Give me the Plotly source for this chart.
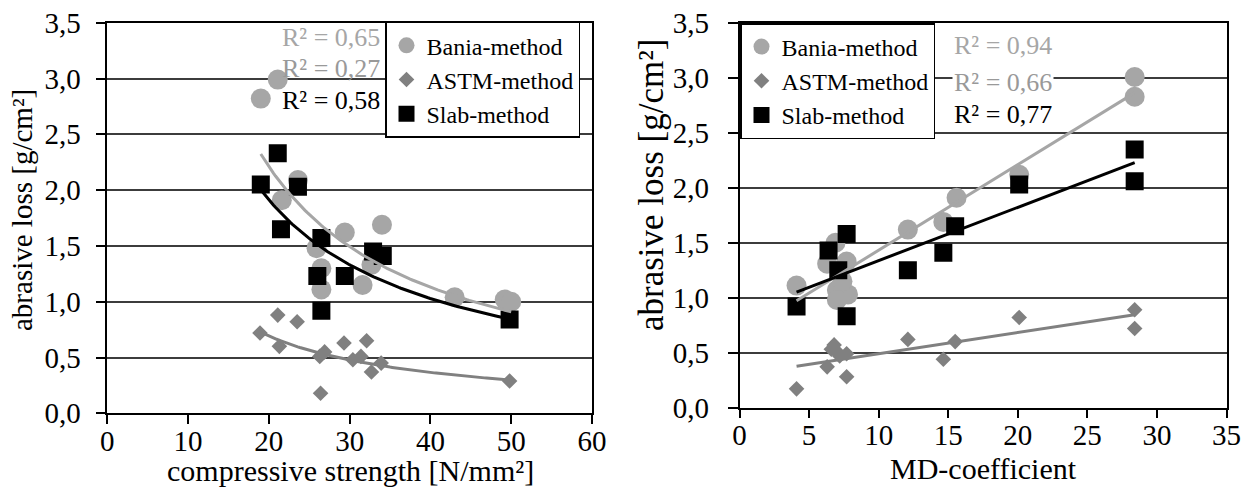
import numpy as np
import plotly.graph_objects as go

W, H = 1245, 493
FONT = "Liberation Serif"

# ---------------- data ----------------
# Left panel: compressive strength [N/mm²] vs abrasive loss [g/cm²]
left_bania_x = [19.0, 21.1, 23.6, 21.6, 29.4, 34.0, 25.9, 26.5, 26.5, 31.6, 32.7, 43.0, 49.2, 50.0]
left_bania_y = [2.82, 2.99, 2.09, 1.91, 1.62, 1.69, 1.48, 1.30, 1.11, 1.15, 1.33, 1.04, 1.02, 1.00]
left_astm_x = [18.9, 21.1, 23.5, 21.3, 26.3, 26.9, 29.3, 32.1, 30.4, 31.4, 32.7, 33.9, 26.4, 49.8]
left_astm_y = [0.72, 0.88, 0.82, 0.60, 0.51, 0.55, 0.63, 0.65, 0.48, 0.51, 0.37, 0.45, 0.18, 0.29]
left_slab_x = [19.0, 21.1, 23.6, 21.5, 26.5, 26.0, 29.4, 26.5, 32.9, 34.1, 49.8]
left_slab_y = [2.05, 2.33, 2.03, 1.65, 1.57, 1.23, 1.23, 0.92, 1.45, 1.41, 0.84]

# Right panel: MD-coefficient vs abrasive loss [g/cm²]
right_bania_x = [4.1, 6.9, 6.3, 7.7, 7.0, 7.8, 7.0, 7.4, 12.1, 14.65, 15.6, 20.1, 28.4, 28.4]
right_bania_y = [1.11, 1.50, 1.31, 1.33, 1.07, 1.03, 0.98, 1.15, 1.62, 1.69, 1.91, 2.12, 3.01, 2.83]
right_astm_x = [4.1, 6.3, 7.7, 6.8, 7.0, 7.7, 6.6, 7.2, 12.1, 14.65, 15.5, 20.1, 28.4, 28.4]
right_astm_y = [0.17, 0.37, 0.28, 0.57, 0.51, 0.49, 0.53, 0.47, 0.62, 0.44, 0.60, 0.82, 0.89, 0.72]
right_slab_x = [4.1, 6.4, 7.7, 7.1, 7.7, 12.1, 14.65, 15.5, 28.4, 28.4, 20.1]
right_slab_y = [0.92, 1.43, 1.58, 1.25, 0.83, 1.25, 1.41, 1.65, 2.35, 2.06, 2.03]

series_names = ["Bania-method", "ASTM-method", "Slab-method"]
left_r2 = ["R² = 0,65", "R² = 0,27", "R² = 0,58"]
right_r2 = ["R² = 0,94", "R² = 0,66", "R² = 0,77"]

x_title_left = "compressive strength [N/mm²]"
x_title_right = "MD-coefficient"
y_title = "abrasive loss [g/cm²]"

# ---------------- styles ----------------
C_BANIA = "#a6a6a6"
C_ASTM = "#808080"
C_SLAB = "#000000"
colors = [C_BANIA, C_ASTM, C_SLAB]
r2_colors = ["#a6a6a6", "#999999", "#000000"]
symbols = ["circle", "diamond", "square"]
sizes = [20, 12, 18]


def power_fit(x, y):
    x = np.asarray(x, float); y = np.asarray(y, float)
    b, ln_a = np.polyfit(np.log(x), np.log(y), 1)
    xs = np.linspace(x.min(), x.max(), 120)
    return xs, np.exp(ln_a) * xs ** b


def linear_fit(x, y):
    x = np.asarray(x, float); y = np.asarray(y, float)
    m, c = np.polyfit(x, y, 1)
    xs = np.array([x.min(), x.max()])
    return xs, m * xs + c


fig = go.Figure()

left_sets = [(left_bania_x, left_bania_y), (left_astm_x, left_astm_y), (left_slab_x, left_slab_y)]
right_sets = [(right_bania_x, right_bania_y), (right_astm_x, right_astm_y), (right_slab_x, right_slab_y)]

for i, (xs, ys) in enumerate(left_sets):
    fig.add_trace(go.Scatter(x=xs, y=ys, mode="markers", name=series_names[i],
                             marker=dict(symbol=symbols[i], size=sizes[i], color=colors[i], line=dict(width=0)),
                             xaxis="x", yaxis="y", legend="legend"))
for i, (xs, ys) in enumerate(left_sets):
    fx, fy = power_fit(xs, ys)
    fig.add_trace(go.Scatter(x=fx, y=fy, mode="lines", line=dict(color=colors[i], width=3),
                             showlegend=False, hoverinfo="skip", xaxis="x", yaxis="y"))

for i, (xs, ys) in enumerate(right_sets):
    fig.add_trace(go.Scatter(x=xs, y=ys, mode="markers", name=series_names[i],
                             marker=dict(symbol=symbols[i], size=sizes[i], color=colors[i], line=dict(width=0)),
                             xaxis="x2", yaxis="y2", legend="legend2"))
for i, (xs, ys) in enumerate(right_sets):
    fx, fy = linear_fit(xs, ys)
    fig.add_trace(go.Scatter(x=fx, y=fy, mode="lines", line=dict(color=colors[i], width=3),
                             showlegend=False, hoverinfo="skip", xaxis="x2", yaxis="y2"))

tickfont = dict(family=FONT, size=29, color="black")
common_x = dict(showline=True, linecolor="black", linewidth=1.5, mirror=True, ticks="outside",
                ticklen=9, tickcolor="black", tickwidth=1.5, showgrid=False, zeroline=False,
                tickfont=tickfont, ticklabelstandoff=-8, automargin=False)
common_y = dict(showline=True, linecolor="black", linewidth=1.5, mirror=True, ticks="outside",
                ticklen=10, tickcolor="black", tickwidth=1.5, showgrid=True, gridcolor="#3c3c3c",
                gridwidth=1.5, zeroline=False, tickfont=tickfont, range=[0, 3.5], dtick=0.5,
                tickformat=".1f", automargin=False)

legend_common = dict(xanchor="left", yanchor="top", bordercolor="black", borderwidth=1.5,
                     bgcolor="white", font=dict(family=FONT, size=24, color="black"),
                     tracegroupgap=0)

fig.update_layout(
    width=W, height=H, margin=dict(l=0, r=0, t=0, b=0, autoexpand=False),
    paper_bgcolor="white", plot_bgcolor="white", separators=", ",
    font=dict(family=FONT, color="black"),
    xaxis=dict(domain=[107.3 / W, 592 / W], range=[0, 60], dtick=10, anchor="y", **common_x),
    yaxis=dict(domain=[1 - 413.3 / H, 1 - 22.7 / H], anchor="x", ticklabelstandoff=9, **common_y),
    xaxis2=dict(domain=[739.5 / W, 1226.5 / W], range=[0, 35], dtick=5, anchor="y2", **common_x),
    yaxis2=dict(domain=[1 - 407.5 / H, 1 - 23.2 / H], anchor="x2", ticklabelstandoff=13, **common_y),
    legend=dict(x=385 / W, y=1 - 21.7 / H, **legend_common),
    legend2=dict(x=740 / W, y=1 - 23 / H, **legend_common),
    showlegend=True,
)

ann = []
# R² labels, left panel (right aligned)
for txt, col, yc in zip(left_r2, r2_colors, [38, 68, 100]):
    ann.append(dict(text=txt, x=381 / W, y=1 - yc / H, xref="paper", yref="paper",
                    xanchor="right", yanchor="middle", showarrow=False, borderpad=0,
                    font=dict(family=FONT, size=26, color=col)))
# R² labels, right panel (left aligned)
for txt, col, yc in zip(right_r2, r2_colors, [46, 82, 115]):
    ann.append(dict(text=txt, x=952 / W, y=1 - yc / H, xref="paper", yref="paper",
                    xanchor="left", yanchor="middle", showarrow=False, bgcolor="white",
                    font=dict(family=FONT, size=26, color=col)))
# axis titles
ann.append(dict(text=x_title_left, x=350 / W, y=1 - 470 / H, xref="paper", yref="paper",
                xanchor="center", yanchor="middle", showarrow=False,
                font=dict(family=FONT, size=30, color="black")))
ann.append(dict(text=x_title_right, x=983 / W, y=1 - 468 / H, xref="paper", yref="paper",
                xanchor="center", yanchor="middle", showarrow=False,
                font=dict(family=FONT, size=30, color="black")))
ann.append(dict(text=y_title, x=22 / W, y=1 - 210 / H, xref="paper", yref="paper",
                xanchor="center", yanchor="middle", showarrow=False, textangle=-90,
                font=dict(family=FONT, size=29, color="black")))
ann.append(dict(text=y_title, x=652 / W, y=1 - 185 / H, xref="paper", yref="paper",
                xanchor="center", yanchor="middle", showarrow=False, textangle=-90,
                font=dict(family=FONT, size=35, color="black")))
fig.update_layout(annotations=ann)

fig.write_html("out.html")
